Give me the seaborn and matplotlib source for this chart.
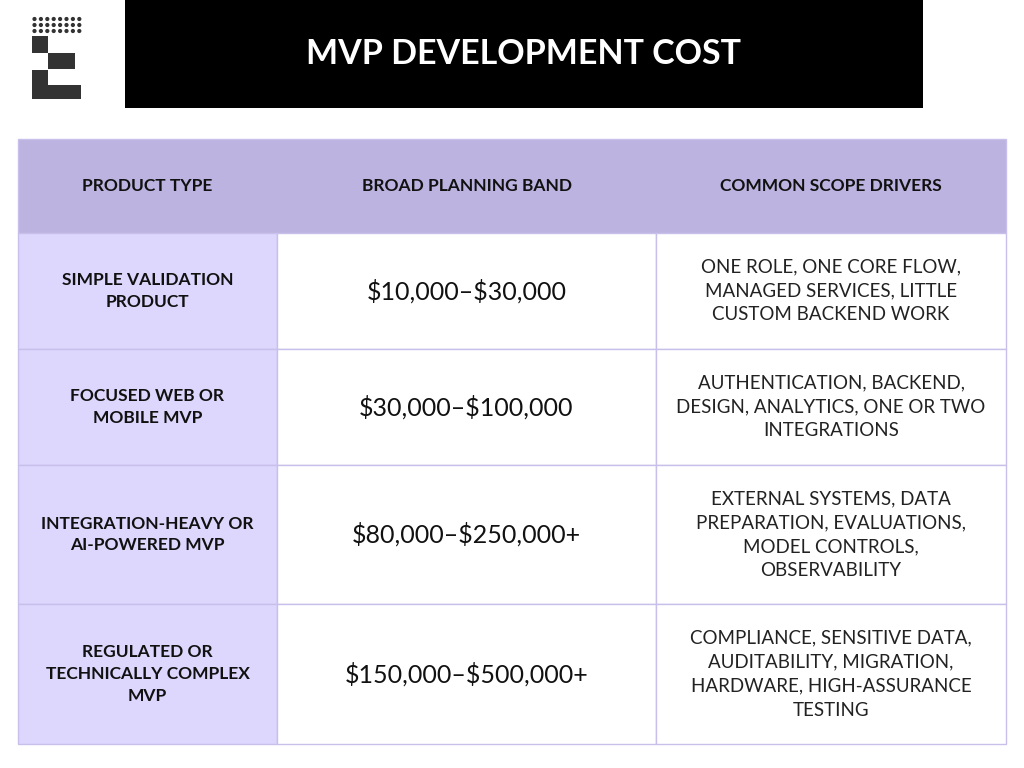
import matplotlib
matplotlib.use("Agg")
import matplotlib.pyplot as plt
from matplotlib.patches import Rectangle
import seaborn as sns

title = "MVP DEVELOPMENT COST"
headers = ["PRODUCT TYPE", "BROAD PLANNING BAND", "COMMON SCOPE DRIVERS"]
product_types = [
    "SIMPLE VALIDATION\nPRODUCT",
    "FOCUSED WEB OR\nMOBILE MVP",
    "INTEGRATION-HEAVY OR\nAI-POWERED MVP",
    "REGULATED OR\nTECHNICALLY COMPLEX\nMVP",
]
planning_bands = [
    "$10,000–$30,000",
    "$30,000–$100,000",
    "$80,000–$250,000+",
    "$150,000–$500,000+",
]
scope_drivers = [
    "ONE ROLE, ONE CORE FLOW,\nMANAGED SERVICES, LITTLE\nCUSTOM BACKEND WORK",
    "AUTHENTICATION, BACKEND,\nDESIGN, ANALYTICS, ONE OR TWO\nINTEGRATIONS",
    "EXTERNAL SYSTEMS, DATA\nPREPARATION, EVALUATIONS,\nMODEL CONTROLS,\nOBSERVABILITY",
    "COMPLIANCE, SENSITIVE DATA,\nAUDITABILITY, MIGRATION,\nHARDWARE, HIGH-ASSURANCE\nTESTING",
]

sns.set_theme(style="white")
plt.rcParams["font.family"] = ["Lato", "DejaVu Sans"]
plt.rcParams["text.parse_math"] = False

fig = plt.figure(figsize=(10.24, 7.68), dpi=100)
ax = fig.add_axes([0, 0, 1, 1])
ax.set_xlim(0, 1024)
ax.set_ylim(768, 0)
ax.axis("off")

# logo
dark = "#333333"
for r in range(3):
    for c in range(8):
        ax.add_patch(plt.Circle((34.5 + c * 6.4, 19 + r * 6), 2.1, color=dark, lw=0))
for x, y, w, h in [(32, 36, 16, 17), (48, 53, 27, 16), (32, 70, 16, 29), (48, 85, 33, 14)]:
    ax.add_patch(Rectangle((x, y), w, h, color=dark, lw=0))

# title bar
ax.add_patch(Rectangle((125, 0), 798, 108, color="black", lw=0))
ax.text(524, 54, title, color="white", fontsize=24.5, fontweight="bold",
        ha="center", va="center")

# table
cols = [18, 277, 656, 1006]
rows = [139, 233, 349, 465, 604, 744]
border = "#c8c0ea"
ax.add_patch(Rectangle((cols[0], rows[0]), cols[-1] - cols[0], rows[1] - rows[0],
                       facecolor="#bcb3e0", edgecolor=border, lw=1))
for j, h in enumerate(headers):
    ax.text((cols[j] + cols[j + 1]) / 2, (rows[0] + rows[1]) / 2, h, fontsize=12.5,
            fontweight="bold", color="#111111", ha="center", va="center")

for i in range(len(product_types)):
    y0, y1 = rows[i + 1], rows[i + 2]
    yc = (y0 + y1) / 2
    ax.add_patch(Rectangle((cols[0], y0), cols[1] - cols[0], y1 - y0,
                           facecolor="#ddd6fd", edgecolor=border, lw=1))
    for j in (1, 2):
        ax.add_patch(Rectangle((cols[j], y0), cols[j + 1] - cols[j], y1 - y0,
                               facecolor="white", edgecolor=border, lw=1))
    ax.text((cols[0] + cols[1]) / 2, yc, product_types[i], fontsize=12.5, fontweight="bold",
            color="#111111", ha="center", va="center", linespacing=1.45)
    ax.text((cols[1] + cols[2]) / 2, yc, planning_bands[i], fontsize=18,
            color="#111111", ha="center", va="center")
    ax.text((cols[2] + cols[3]) / 2, yc, scope_drivers[i], fontsize=13.5,
            color="#222222", ha="center", va="center", linespacing=1.5)

fig.savefig("out.png", dpi=100, facecolor="white")
